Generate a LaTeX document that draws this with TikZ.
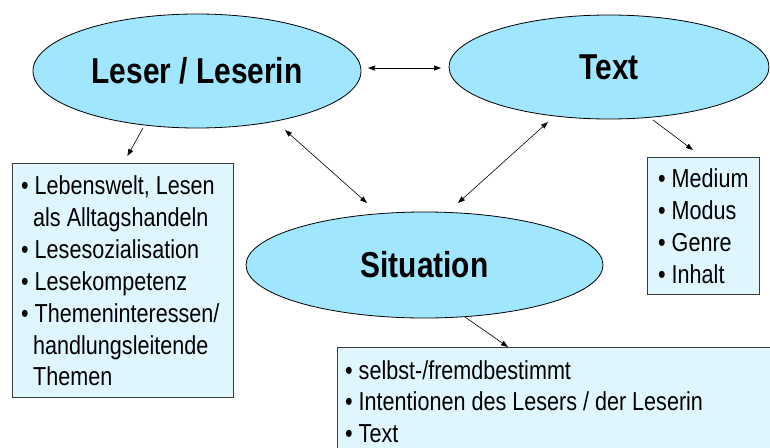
\documentclass[tikz,border=0pt]{standalone}
\usepackage{fontspec}
\setmainfont{Liberation Sans}[FakeStretch=0.83]
\usetikzlibrary{shapes.geometric,arrows.meta,calc}
\definecolor{ellfill}{RGB}{160,230,255}
\definecolor{boxfill}{RGB}{223,246,255}
\definecolor{boxline}{RGB}{60,60,60}
\begin{document}
\begin{tikzpicture}[x=1pt,y=-1pt,
  ell/.style={ellipse, draw=black, line width=0.8pt, fill=ellfill, inner sep=0pt,
    font=\fontsize{36}{40}\selectfont\bfseries},
  infobox/.style={rectangle, draw=boxline, line width=0.8pt, fill=boxfill, inner sep=0pt, anchor=north west},
  item/.style={anchor=base west, inner sep=0pt, font=\fontsize{26}{31}\selectfont},
  arr/.style={-{Triangle[length=7pt,width=5pt]}, line width=0.6pt},
  dbl/.style={{Triangle[length=7pt,width=5pt]}-{Triangle[length=7pt,width=5pt]}, line width=0.6pt}
]
\useasboundingbox (0,0) rectangle (770,447);
\clip (0,0) rectangle (770,447);

% ellipses
\node[ell, minimum width=328pt, minimum height=114pt] (leser) at (197,71) {Leser / Leserin};
\node[ell, minimum width=320pt, minimum height=104pt] (txt) at (609,67) {Text};
\node[ell, minimum width=357pt, minimum height=106pt] (sit) at (424.5,265) {Situation};

% boxes
\node[infobox, minimum width=221pt, minimum height=234pt] (lbox) at (12,163) {};
\node[infobox, minimum width=112pt, minimum height=137pt] (rbox) at (647,157) {};
\node[infobox, minimum width=440pt, minimum height=110pt] (bbox) at (337,347) {};

% left box text
\node[item] (l1) at (21,194) {• Lebenswelt, Lesen};
\node[item] (l2) at (33,226) {als Alltagshandeln};
\node[item] (l3) at (21,258) {• Lesesozialisation};
\node[item] (l4) at (21,290) {• Lesekompetenz};
\node[item] (l5) at (21,322) {• Themeninteressen/};
\node[item] (l6) at (33,354) {handlungsleitende};
\node[item] (l7) at (33,385) {Themen};

% right box text
\node[item] (r1) at (658,187) {• Medium};
\node[item] (r2) at (658,219) {• Modus};
\node[item] (r3) at (658,251) {• Genre};
\node[item] (r4) at (658,283) {• Inhalt};

% bottom box text
\node[item] (b1) at (345,379) {• selbst-/fremdbestimmt};
\node[item] (b2) at (345,410) {• Intentionen des Lesers / der Leserin};
\node[item] (b3) at (345,442) {• Text};

% connectors
\draw[dbl] ($(leser.center)+(171,-3)$) -- ($(txt.center)+(-168,1)$);
\draw[arr] ($(leser.center)+(-54,57)$) -- ($(lbox.north)+(4.5,-7)$);
\draw[dbl] ($(leser.center)+(88,59)$) -- ($(sit.center)+(-57.5,-62)$);
\draw[dbl] ($(txt.center)+(-61,55)$) -- ($(sit.center)+(33.5,-62)$);
\draw[arr] ($(txt.center)+(44,53)$) -- ($(rbox.north)+(-10.5,-7)$);
\draw[arr] ($(sit.center)+(40.5,52)$) -- ($(bbox.north west)+(171,0)$);
\end{tikzpicture}
\end{document}
